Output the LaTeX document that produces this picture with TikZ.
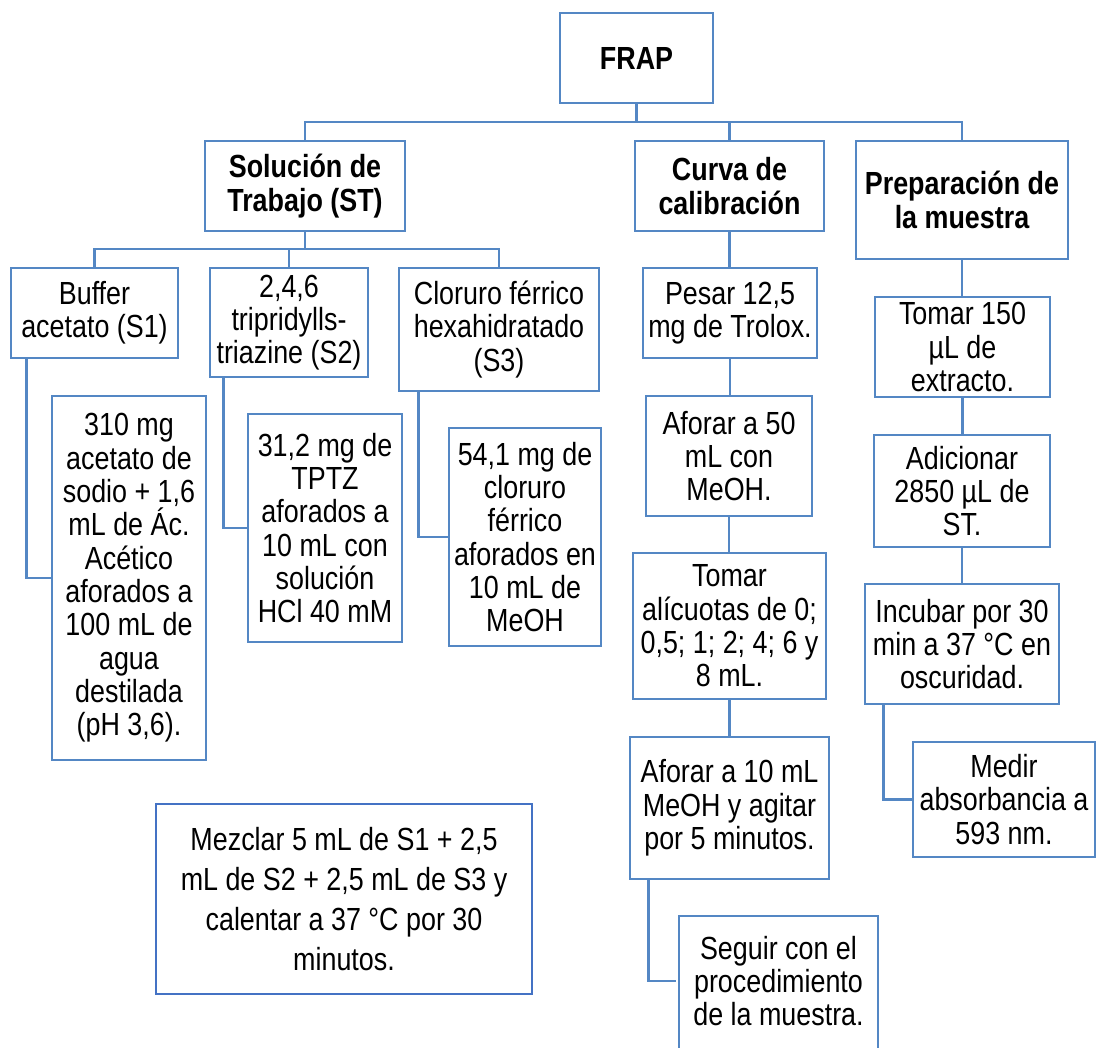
\documentclass[tikz,border=0pt]{standalone}
\usepackage{fontspec}
\setmainfont{Liberation Sans}[FakeStretch=0.84]
\definecolor{boxblue}{RGB}{84,135,196}
\definecolor{mixblue}{RGB}{68,114,196}
\tikzset{
  box/.style={draw=boxblue, line width=2pt, fill=white, inner sep=0pt,
    align=center, font=\fontsize{24pt}{25pt}\selectfont},
  head/.style={font=\fontsize{24pt}{25pt}\selectfont\bfseries},
  link/.style={draw=boxblue, line width=2pt},
}
% \boxnode[options]{name}{x1}{y1}{x2}{y2}{text}
\newcommand\boxnode[7][]{%
  \node[box, #1, minimum width={(#5-#3)*0.75pt}, minimum height={(#6-#4)*0.75pt}]
    (#2) at ({(#3+#5)/2},{(#4+#6)/2}) {#7};}

\begin{document}
\begin{tikzpicture}[x=0.75pt,y=-0.75pt]
\useasboundingbox (0,0) rectangle (1096,1047);

% top level
\boxnode[head]{FRAP}{560}{13}{713}{103}{FRAP}
\boxnode[head]{ST}{205}{141}{405}{231}{Solución de\\Trabajo (ST)}
\boxnode[head]{Curva}{635}{141}{824}{231}{Curva de\\calibración}
\boxnode[head]{Prep}{856}{141}{1068}{259}{Preparación de\\la muestra}

% working solution branch
\boxnode{Buffer}{11}{268}{178}{358}{Buffer\\acetato (S1)}
\boxnode{S2}{210}{268}{368}{377}{2,4,6\\tripridylls-\\triazine (S2)}
\boxnode{S3}{399}{268}{599}{391}{Cloruro férrico\\hexahidratado\\(S3)}
\boxnode{det1}{52}{396}{206}{760}{310 mg\\acetato de\\sodio + 1,6\\mL de Ác.\\Acético\\aforados a\\100 mL de\\agua\\destilada\\(pH 3,6).}
\boxnode{det2}{248}{414}{402}{642}{31,2 mg de\\TPTZ\\aforados a\\10 mL con\\solución\\HCl 40 mM}
\boxnode{det3}{449}{428}{601}{646}{54,1 mg de\\cloruro\\férrico\\aforados en\\10 mL de\\MeOH}
\boxnode[draw=mixblue, font=\fontsize{24pt}{30pt}\selectfont]{Mezclar}{156}{804}{532}{994}{Mezclar 5 mL de S1 + 2,5\\mL de S2 + 2,5 mL de S3 y\\calentar a 37 °C por 30\\minutos.}

% calibration curve branch
\boxnode{Pesar}{643}{268}{817}{358}{Pesar 12,5\\mg de Trolox.}
\boxnode{Af50}{646}{396}{812}{516}{Aforar a 50\\mL con\\MeOH.}
\boxnode{Tomar}{633}{553}{826}{699}{Tomar\\alícuotas de 0;\\0,5; 1; 2; 4; 6 y\\8 mL.}
\boxnode{Af10}{630}{737}{829}{879}{Aforar a 10 mL\\MeOH y agitar\\por 5 minutos.}
% the last box runs past the lower edge of the page
\draw[boxblue, line width=2pt] (679,916) rectangle (878,1064);
\boxnode[draw=none, fill=none]{Seguir}{679}{916}{878}{1046}{Seguir con el\\procedimiento\\de la muestra.}

% sample preparation branch
\boxnode{Tomar150}{875}{297}{1050}{397}{Tomar 150\\µL de\\extracto.}
\boxnode{Adic}{874}{435}{1050}{547}{Adicionar\\2850 µL de\\ST.}
\boxnode{Incub}{865}{584}{1059}{704}{Incubar por 30\\min a 37 °C en\\oscuridad.}
\boxnode{Medir}{913}{742}{1095}{857}{Medir\\absorbancia a\\593 nm.}

% connectors
\coordinate (busA) at (0,122);
\coordinate (busB) at (0,249);
\draw[link] (FRAP.south) -- (FRAP.south |- busA);
\draw[link] (ST.north) |- (Prep.north |- busA) -- (Prep.north);
\draw[link] (Curva.north) -- (Curva.north |- busA);

\draw[link] (ST.south) -- (ST.south |- busB);
\draw[link] (Buffer.north) |- (S3.north |- busB) -- (S3.north);
\draw[link] (S2.north) -- (S2.north |- busB);

\draw[link] ([xshift=12.75pt]Buffer.south west) |- (det1.west);
\draw[link] ([xshift=11.25pt]S2.south west) |- (det2.west);
\draw[link] ([xshift=15.4pt]S3.south west) |- (det3.west);

\draw[link] (Curva.south) -- (Curva.south |- Pesar.north);
\draw[link] (Pesar.south) -- (Pesar.south |- Af50.north);
\draw[link] (Af50.south) -- (Af50.south |- Tomar.north);
\draw[link] (Tomar.south) -- (Tomar.south |- Af10.north);
\draw[link] ([xshift=15pt]Af10.south west) |- ([xshift=-1pt]Seguir.west);

\draw[link] (Prep.south) -- (Prep.south |- Tomar150.north);
\draw[link] (Tomar150.south) -- (Tomar150.south |- Adic.north);
\draw[link] (Adic.south) -- (Adic.south |- Incub.north);
\draw[link] ([xshift=15pt]Incub.south west) |- (Medir.west);
\end{tikzpicture}
\end{document}
